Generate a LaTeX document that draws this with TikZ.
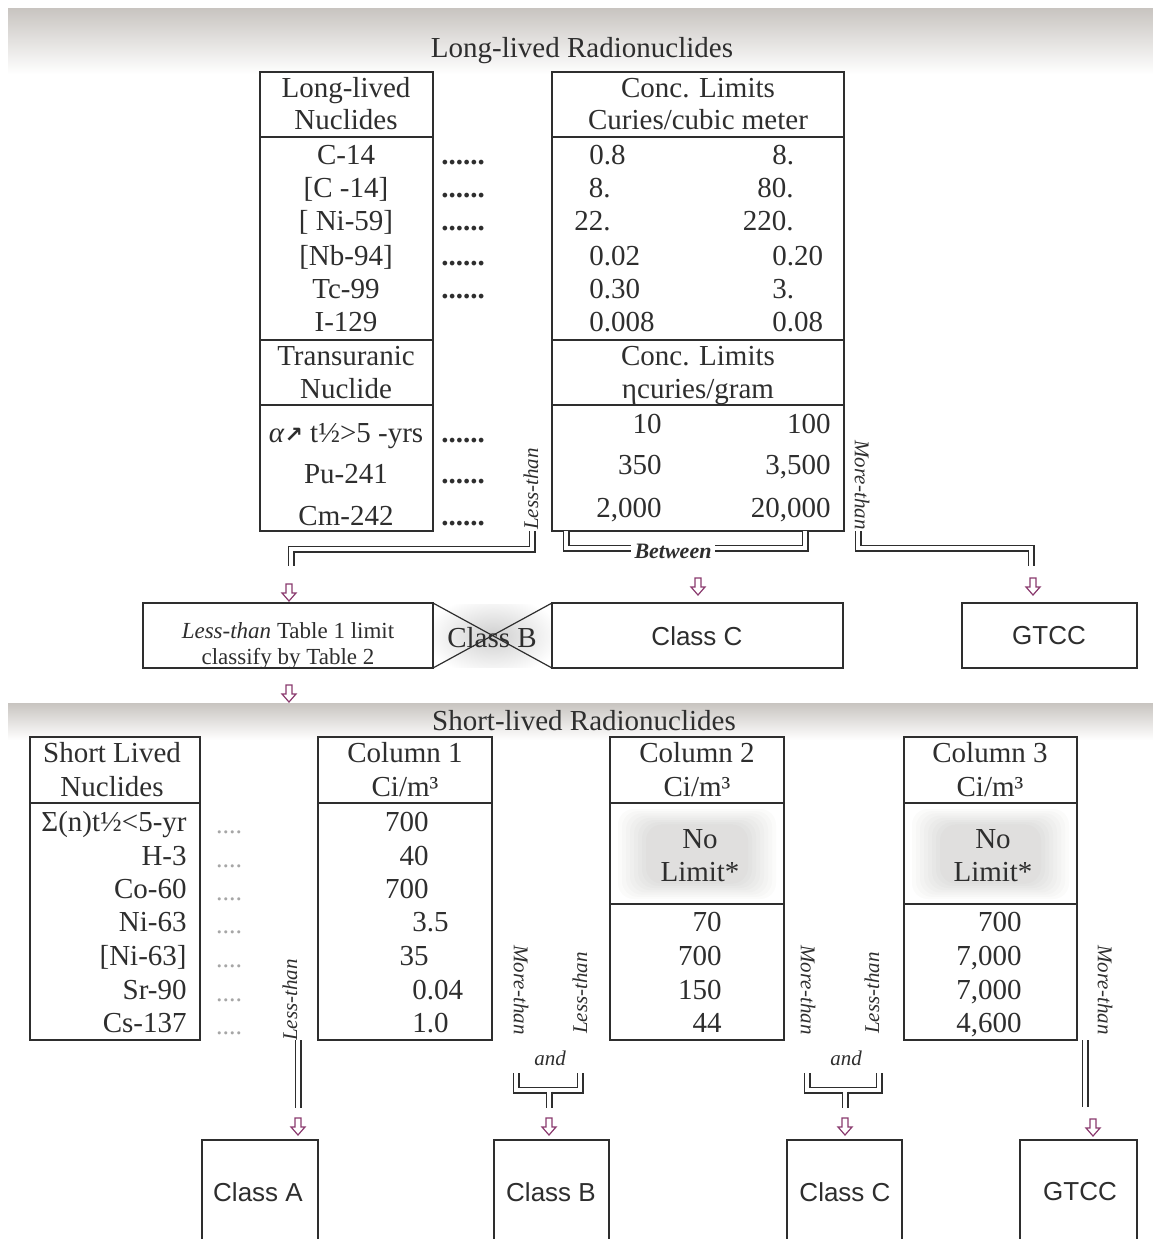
\documentclass[tikz,border=0pt]{standalone}
\usepackage{fontspec}
\setmainfont{Liberation Serif}
\newfontfamily\sansf{Liberation Sans}
\newfontfamily\symf{DejaVu Sans}
\usetikzlibrary{fit,calc}
\definecolor{ink}{HTML}{2E2E2E}
\definecolor{arrc}{HTML}{8A3A6E}
\definecolor{bandg}{HTML}{C8C4C0}
\tikzset{
 txt/.style={inner sep=0pt, text height=9.6pt, text depth=0pt, text=ink, font=\fontsize{14.5}{17}\selectfont},
 smalltxt/.style={inner sep=0pt, text height=7.7pt, text depth=0pt, text=ink, font=\fontsize{11.5}{13}\selectfont},
 dots/.style={inner sep=0pt, text height=9.6pt, text depth=0pt, text=ink, font=\fontsize{14.5}{17}\selectfont\bfseries},
 ldots/.style={inner sep=0pt, text height=9.6pt, text depth=0pt, text=gray!70, font=\fontsize{13}{17}\selectfont},
 tbl/.style={draw=ink, line width=0.7pt, inner sep=0pt, fit={#1}},
 sep/.style={draw=ink, line width=0.7pt},
 rotlab/.style={inner sep=0pt, text=ink, font=\fontsize{10.5}{12}\selectfont\itshape},
 dbl/.style={draw=ink, line width=0.75pt, double=white, double distance=2pt},
 clab/.style={inner sep=0pt, text=ink, font=\sansf\fontsize{13}{15}\selectfont},
 glow/.style={fill={rgb,255:red,120;green,112;blue,108}, fill opacity=0.028, rounded corners=8},
 harrow/.pic={\draw[arrc, line width=0.6pt, fill=white] (-3,0) -- (-3,9) -- (-7,9) -- (0,17) -- (7,9) -- (3,9) -- (3,0) -- cycle;},
}
\begin{document}
\begin{tikzpicture}[x=0.5pt,y=-0.5pt]
\useasboundingbox (0,0) rectangle (1153,1239);
\clip (0,0) rectangle (1153,1239);
\fill[white] (0,0) rectangle (1153,1239);
% header bands
\shade[top color=bandg, bottom color=white] (8,8) rectangle (1153,74);
\shade[top color=bandg, bottom color=white] (8,703) rectangle (1153,740);
\node[txt] (ttl1) at (582,48) {Long-lived Radionuclides};
\node[txt] (ttl2) at (584,721) {Short-lived Radionuclides};

% ---------- long-lived tables ----------
\node[tbl={(260,72)(433,531)}] (lt) {};
\node[tbl={(552,72)(844,531)}] (rt) {};
\draw[sep] (260,137) -- (433,137) (260,340) -- (433,340) (260,405) -- (433,405);
\draw[sep, line width=1pt] (552,137) -- (844,137);
\draw[sep] (552,340) -- (844,340) (552,405) -- (844,405);

\node[txt] (lh1) at (346,88) {Long-lived};
\node[txt] (lh2) at (346,120) {Nuclides};
\foreach \t/\y [count=\i] in {C-14/155,{[C -14]}/188,{[ Ni-59]}/221,{[Nb-94]}/256,Tc-99/289,I-129/322}
  \node[txt] (ln\i) at (346,\y) {\t};
\node[txt] (tr1) at (346,356) {Transuranic};
\node[txt] (tr2) at (346,389) {Nuclide};
\node[txt] (tn1) at (346,433) {\textit{α}{\symf\bfseries\fontsize{11}{12}\selectfont ↗} t½>5 -yrs};
\node[txt] (tn2) at (346,474) {Pu-241};
\node[txt] (tn3) at (346,516) {Cm-242};
\foreach \y [count=\i] in {155,188,221,256,289,433,474,516}
  \node[dots] (dd\i) at (463,\y) {......};

\node[txt] (rh1) at (698,88) {Conc. Limits};
\node[txt] (rh2) at (698,120) {Curies/cubic meter};
\node[txt, anchor=west] (a1) at (589,155) {0.8};
\node[txt, anchor=east] (a2) at (611,188) {8.};
\node[txt, anchor=east] (a3) at (611,221) {22.};
\node[txt, anchor=west] (a4) at (589,256) {0.02};
\node[txt, anchor=west] (a5) at (589,289) {0.30};
\node[txt, anchor=west] (a6) at (589,322) {0.008};
\node[txt, anchor=west] (b1) at (772,155) {8.};
\node[txt, anchor=east] (b2) at (794,188) {80.};
\node[txt, anchor=east] (b3) at (794,221) {220.};
\node[txt, anchor=west] (b4) at (772,256) {0.20};
\node[txt, anchor=west] (b5) at (772,289) {3.};
\node[txt, anchor=west] (b6) at (772,322) {0.08};
\node[txt] (rh3) at (698,356) {Conc. Limits};
\node[txt] (rh4) at (698,389) {ηcuries/gram};
\node[txt, anchor=east] (c1) at (662,424) {10};
\node[txt, anchor=east] (c2) at (662,465) {350};
\node[txt, anchor=east] (c3) at (662,508) {2,000};
\node[txt, anchor=east] (d1) at (831,424) {100};
\node[txt, anchor=east] (d2) at (831,465) {3,500};
\node[txt, anchor=east] (d3) at (831,508) {20,000};

% ---------- top connectors ----------
\node[rotlab, rotate=90] (lesstop) at (531,489) {Less-than};
\node[rotlab, rotate=-90] (moretop) at (862,485) {More-than};
\coordinate (lsS) at (532,531);
\coordinate (lsE) at (291,566);
\draw[dbl] (lsS) -- (532,549) -- (291,549) -- (lsE);
\coordinate (bwL) at (566,531);
\coordinate (bwR) at (805,531);
\draw[dbl] (bwL) -- (566,548) -- (805,548) -- (bwR);
\node[fill=white, inner sep=2pt, text=ink, font=\fontsize{11}{12}\selectfont\bfseries\itshape] (btw) at (673,551) {Between};
\coordinate (msS) at (858,531);
\coordinate (msE) at (1031,566);
\draw[dbl] (msS) -- (858,548) -- (1031,548) -- (msE);
\pic at (289,584) {harrow};
\pic at (698,578) {harrow};
\pic at (1033,578) {harrow};

% ---------- middle class row ----------
\node[tbl={(143,603)(433,668)}] (lbox) {};
\node[smalltxt] (lb1) at (288,631) {\textit{Less-than} Table 1 limit};
\node[smalltxt] (lb2) at (288,657) {classify by Table 2};
\begin{scope}
  \clip (434,604) rectangle (551,667);
  \shade[inner color=gray!38, outer color=white] (493,636) ellipse (68 and 40);
\end{scope}
\draw[ink, line width=0.6pt] (433,603) -- (552,668) (433,668) -- (552,603);
\node[txt] (clsB) at (492,638) {Class B};
\node[tbl={(552,603)(843,668)}] (cbox) {};
\node[clab] (clsC) at (697,636) {Class C};
\node[tbl={(962,603)(1137,668)}] (gbox) {};
\node[clab] (gtcc1) at (1049,636) {GTCC};
\pic at (289,685) {harrow};

% ---------- short-lived tables ----------
\node[tbl={(30,737)(200,1040)}] (st) {};
\node[tbl={(318,737)(492,1040)}] (k1) {};
\node[tbl={(610,737)(784,1040)}] (k2) {};
\node[tbl={(904,737)(1077,1040)}] (k3) {};
\draw[sep] (30,803) -- (200,803) (318,803) -- (492,803) (610,803) -- (784,803) (904,803) -- (1077,803);
\foreach \d in {0,4,...,28}{
  \fill[glow] (618+\d,809+\d*0.55) rectangle (776-\d,899-\d*0.55);
  \fill[glow] (912+\d,809+\d*0.55) rectangle (1069-\d,899-\d*0.55);
}
\draw[sep] (610,904) -- (784,904) (904,904) -- (1077,904);

\node[txt] (sh1) at (112,753) {Short Lived};
\node[txt] (sh2) at (112,787) {Nuclides};
\foreach \t/\y [count=\i] in {Σ(n)t½<5-yr/822,H-3/856,Co-60/889,Ni-63/922,{[Ni-63]}/956,Sr-90/990,Cs-137/1023}{
  \node[txt, anchor=east] (sn\i) at (187,\y) {\t};
  \node[ldots] (sd\i) at (229,\y+2) {....};
}
\node[txt] (k1h1) at (405,753) {Column 1};
\node[txt] (k1h2) at (405,787) {Ci/m³};
\node[txt] (k2h1) at (697,753) {Column 2};
\node[txt] (k2h2) at (697,787) {Ci/m³};
\node[txt] (k3h1) at (990,753) {Column 3};
\node[txt] (k3h2) at (990,787) {Ci/m³};
\node[txt] (nl1) at (700,839) {No};
\node[txt] (nl2) at (700,872) {Limit*};
\node[txt] (nl3) at (993,839) {No};
\node[txt] (nl4) at (993,872) {Limit*};

\node[txt, anchor=east] (v1) at (429,822) {700};
\node[txt, anchor=east] (v2) at (429,856) {40};
\node[txt, anchor=east] (v3) at (429,889) {700};
\node[txt, anchor=west] (v4) at (412,922) {3.5};
\node[txt, anchor=east] (v5) at (429,956) {35};
\node[txt, anchor=west] (v6) at (412,990) {0.04};
\node[txt, anchor=west] (v7) at (412,1023) {1.0};
\foreach \t/\y [count=\i] in {70/922,700/956,150/990,44/1023}
  \node[txt, anchor=east] (w\i) at (722,\y) {\t};
\foreach \t/\y [count=\i] in {700/922,{7,000}/956,{7,000}/990,{4,600}/1023}
  \node[txt, anchor=east] (x\i) at (1022,\y) {\t};

% ---------- bottom connectors ----------
\node[rotlab, rotate=90] (ltA) at (290,1000) {Less-than};
\node[rotlab, rotate=-90] (mtB) at (521,990) {More-than};
\node[rotlab, rotate=90] (ltB) at (580,993) {Less-than};
\node[rotlab, rotate=-90] (mtC) at (808,990) {More-than};
\node[rotlab, rotate=90] (ltC) at (872,993) {Less-than};
\node[rotlab, rotate=-90] (mtG) at (1105,990) {More-than};
\node[rotlab] (andB) at (550,1058) {and};
\node[rotlab] (andC) at (846,1058) {and};

\coordinate (cA1) at (298,1040);
\coordinate (cA2) at (298,1108);
\draw[dbl] (cA1) -- (cA2);
\coordinate (bL) at (516,1073);
\coordinate (bR) at (580,1073);
\draw[dbl] (bL) -- (516,1090) -- (580,1090) -- (bR);
\draw[dbl] (549,1091.6) -- (549,1108);
\coordinate (cL) at (807,1073);
\coordinate (cR) at (879,1073);
\draw[dbl] (cL) -- (807,1090) -- (879,1090) -- (cR);
\draw[dbl] (845,1091.6) -- (845,1108);
\coordinate (g1) at (1085,1040);
\coordinate (g2) at (1085,1107);
\draw[dbl] (g1) -- (g2);
\pic at (298,1118) {harrow};
\pic at (549,1118) {harrow};
\pic at (845,1118) {harrow};
\pic at (1093,1119) {harrow};

% ---------- bottom class boxes (open at the bottom edge) ----------
\node[tbl={(202,1140)(318,1260)}] (boxA) {};
\node[tbl={(494,1140)(609,1260)}] (boxB) {};
\node[tbl={(787,1140)(902,1260)}] (boxC) {};
\node[tbl={(1020,1140)(1137,1260)}] (boxG) {};
\node[clab] (lA) at (258,1192) {Class A};
\node[clab] (lB) at (551,1192) {Class B};
\node[clab] (lC) at (845,1192) {Class C};
\node[clab] (lG) at (1080,1192) {GTCC};
\end{tikzpicture}
\end{document}
